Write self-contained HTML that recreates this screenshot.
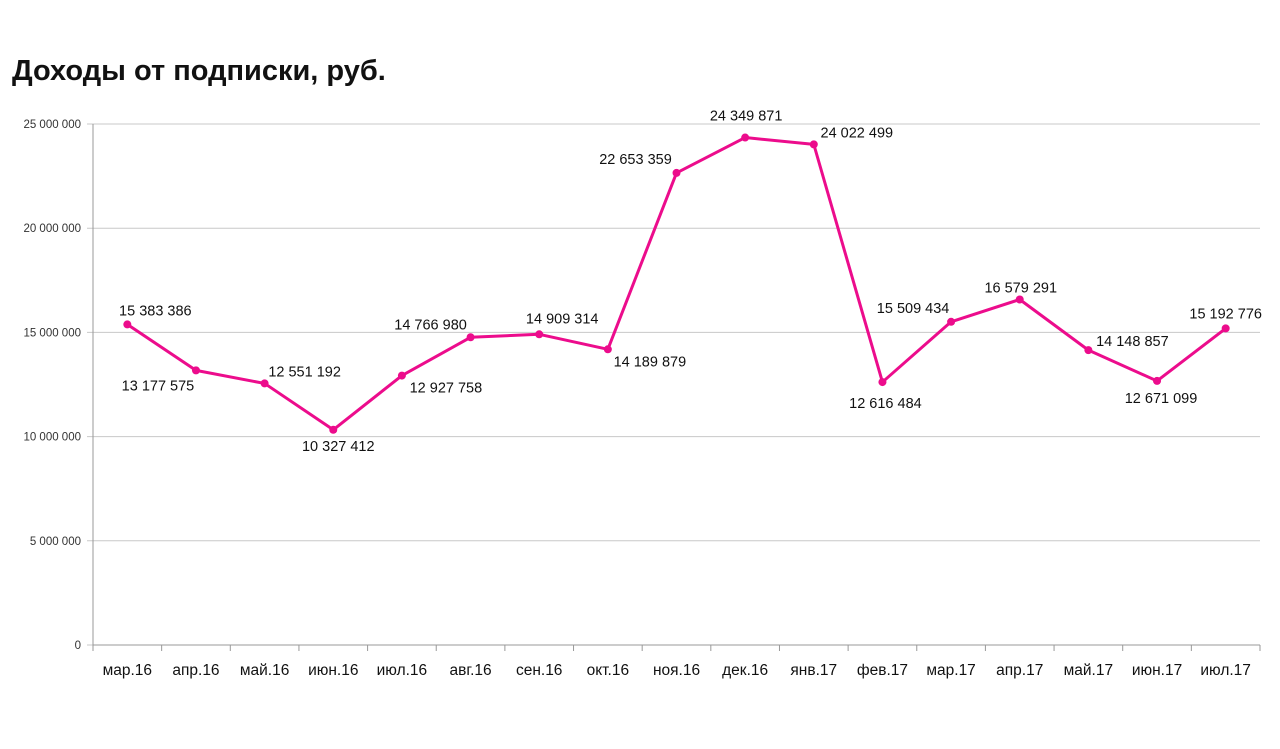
<!DOCTYPE html>
<html><head><meta charset="utf-8"><style>
body{margin:0;background:#fff;width:1280px;height:744px;overflow:hidden;font-family:"Liberation Sans","DejaVu Sans",sans-serif}
</style></head><body>
<svg id="c" width="1280" height="744" xmlns="http://www.w3.org/2000/svg">
<text x="12" y="80" font-size="29" font-weight="bold" fill="#111">Доходы от подписки, руб.</text>
</svg>
<script>
const categories=["мар.16","апр.16","май.16","июн.16","июл.16","авг.16","сен.16","окт.16","ноя.16","дек.16","янв.17","фев.17","мар.17","апр.17","май.17","июн.17","июл.17"];
const values=[15383386,13177575,12551192,10327412,12927758,14766980,14909314,14189879,22653359,24349871,24022499,12616484,15509434,16579291,14148857,12671099,15192776];
const yTicks=[0,5000000,10000000,15000000,20000000,25000000];
const labelDx=[28,-38,40,5,44,-40,23,42,-41,1,43,3,-38,1,44,4,0];
const labelDy=[-14,15,-12,16,12,-13,-16,12,-14,-22,-12,21,-14,-12,-9,17,-15];
const NS="http://www.w3.org/2000/svg",svg=document.getElementById('c');
const X0=93,X1=1260,Y0=645,Y1=124,MAX=25000000;
const bw=(X1-X0)/categories.length;
const xs=i=>X0+bw*(i+0.5), ys=v=>Y0-(v/MAX)*(Y0-Y1);
const fmt=v=>String(v).replace(/\B(?=(\d{3})+(?!\d))/g,' ');
function mk(t,a,txt){const e=document.createElementNS(NS,t);for(const k in a)e.setAttribute(k,a[k]);if(txt!=null)e.textContent=txt;svg.appendChild(e);return e;}
yTicks.forEach(v=>{
 const g=mk('line',{x1:87,x2:X1,y1:ys(v),y2:ys(v),stroke:'#c8c8c8','stroke-width':1});
 
 
 const t=mk('text',{x:81,y:ys(v)+4,'font-size':11.5,'text-anchor':'end',fill:'#333'},fmt(v));
 
 
});
const ax=mk('line',{x1:X0,x2:X0,y1:Y1,y2:Y0,stroke:'#999'});


const xa=mk('line',{x1:X0,x2:X1,y1:Y0,y2:Y0,stroke:'#999'});


for(let i=0;i<=categories.length;i++){
 const tk=mk('line',{x1:X0+bw*i,x2:X0+bw*i,y1:Y0,y2:Y0+6,stroke:'#999'});
 
 
}
categories.forEach((c,i)=>{
 const t=mk('text',{x:xs(i),y:675,'font-size':15.5,'text-anchor':'middle',fill:'#111'},c);
 
 
});
const line=mk('polyline',{points:values.map((v,i)=>xs(i)+','+ys(v)).join(' '),fill:'none',stroke:'#ec0c8c','stroke-width':3,'stroke-linejoin':'round'});


values.forEach((v,i)=>{
 const p=mk('circle',{cx:xs(i),cy:ys(v),r:4,fill:'#ec0c8c'});
 
 
 const t=mk('text',{x:xs(i)+labelDx[i],y:ys(v)+labelDy[i]+5,'font-size':14.5,'text-anchor':'middle',fill:'#111'},fmt(v));
 
 
});
</script>
</body></html>
